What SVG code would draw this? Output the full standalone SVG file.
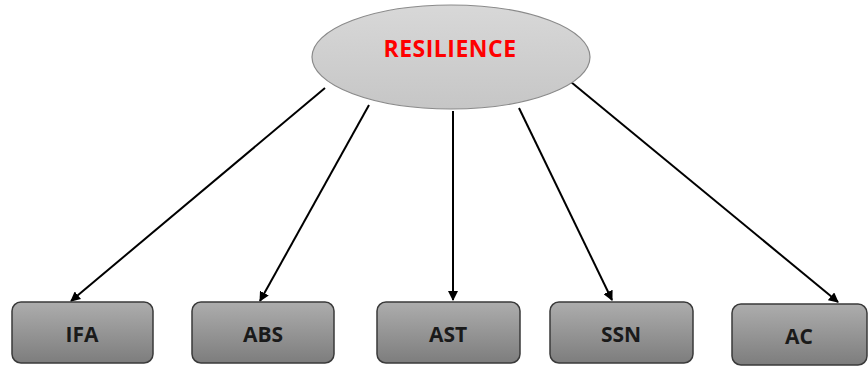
<svg xmlns="http://www.w3.org/2000/svg" width="868" height="367" viewBox="0 0 868 367">
<defs>
<linearGradient id="boxg" x1="0" y1="0" x2="0" y2="1">
<stop offset="0" stop-color="#adadad"/>
<stop offset="1" stop-color="#7d7d7d"/>
</linearGradient>
<linearGradient id="ellg" x1="0" y1="0" x2="0" y2="1">
<stop offset="0" stop-color="#d8d8d8"/>
<stop offset="1" stop-color="#c6c6c6"/>
</linearGradient>
<marker id="ah" viewBox="0 0 10 10" refX="9" refY="5" markerWidth="10" markerHeight="10" markerUnits="userSpaceOnUse" orient="auto">
<path d="M0,0 L10,5 L0,10 z" fill="#000"/>
</marker>
<style>
.box{fill:url(#boxg);stroke:#3a3a3a;stroke-width:1.5}
.lbl{font-family:"Open Sans","Liberation Sans",sans-serif;font-weight:bold;font-size:21px;fill:#1a1a1a;text-anchor:middle;dominant-baseline:central}
.con{stroke:#000;stroke-width:2;fill:none;marker-end:url(#ah)}
</style>
</defs>
<rect width="868" height="367" fill="#fff"/>
<g id="connectors">
<line class="con" x1="325" y1="88" x2="71" y2="301"/>
<line class="con" x1="369" y1="105" x2="260" y2="301"/>
<line class="con" x1="453" y1="111" x2="453" y2="300"/>
<line class="con" x1="519" y1="108" x2="612" y2="300"/>
<line class="con" x1="571" y1="82" x2="838" y2="302"/>
</g>
<g id="resilience">
<ellipse cx="451" cy="57" rx="139" ry="52" fill="url(#ellg)" stroke="#8a8a8a" stroke-width="1.2"/>
<text x="450" y="48" class="lbl" style="fill:#ff0000;font-size:23px;letter-spacing:0.5px">RESILIENCE</text>
</g>
<g id="ifa">
<rect class="box" x="12" y="302" width="141" height="61" rx="9"/>
<text class="lbl" x="82" y="334">IFA</text>
</g>
<g id="abs">
<rect class="box" x="192" y="302" width="142" height="61" rx="9"/>
<text class="lbl" x="263" y="334">ABS</text>
</g>
<g id="ast">
<rect class="box" x="377" y="302" width="143" height="61" rx="9"/>
<text class="lbl" x="448" y="334">AST</text>
</g>
<g id="ssn">
<rect class="box" x="550" y="302" width="143" height="61" rx="9"/>
<text class="lbl" x="621" y="334">SSN</text>
</g>
<g id="ac">
<rect class="box" x="732" y="304" width="135" height="61" rx="9"/>
<text class="lbl" x="799" y="336">AC</text>
</g>
</svg>
